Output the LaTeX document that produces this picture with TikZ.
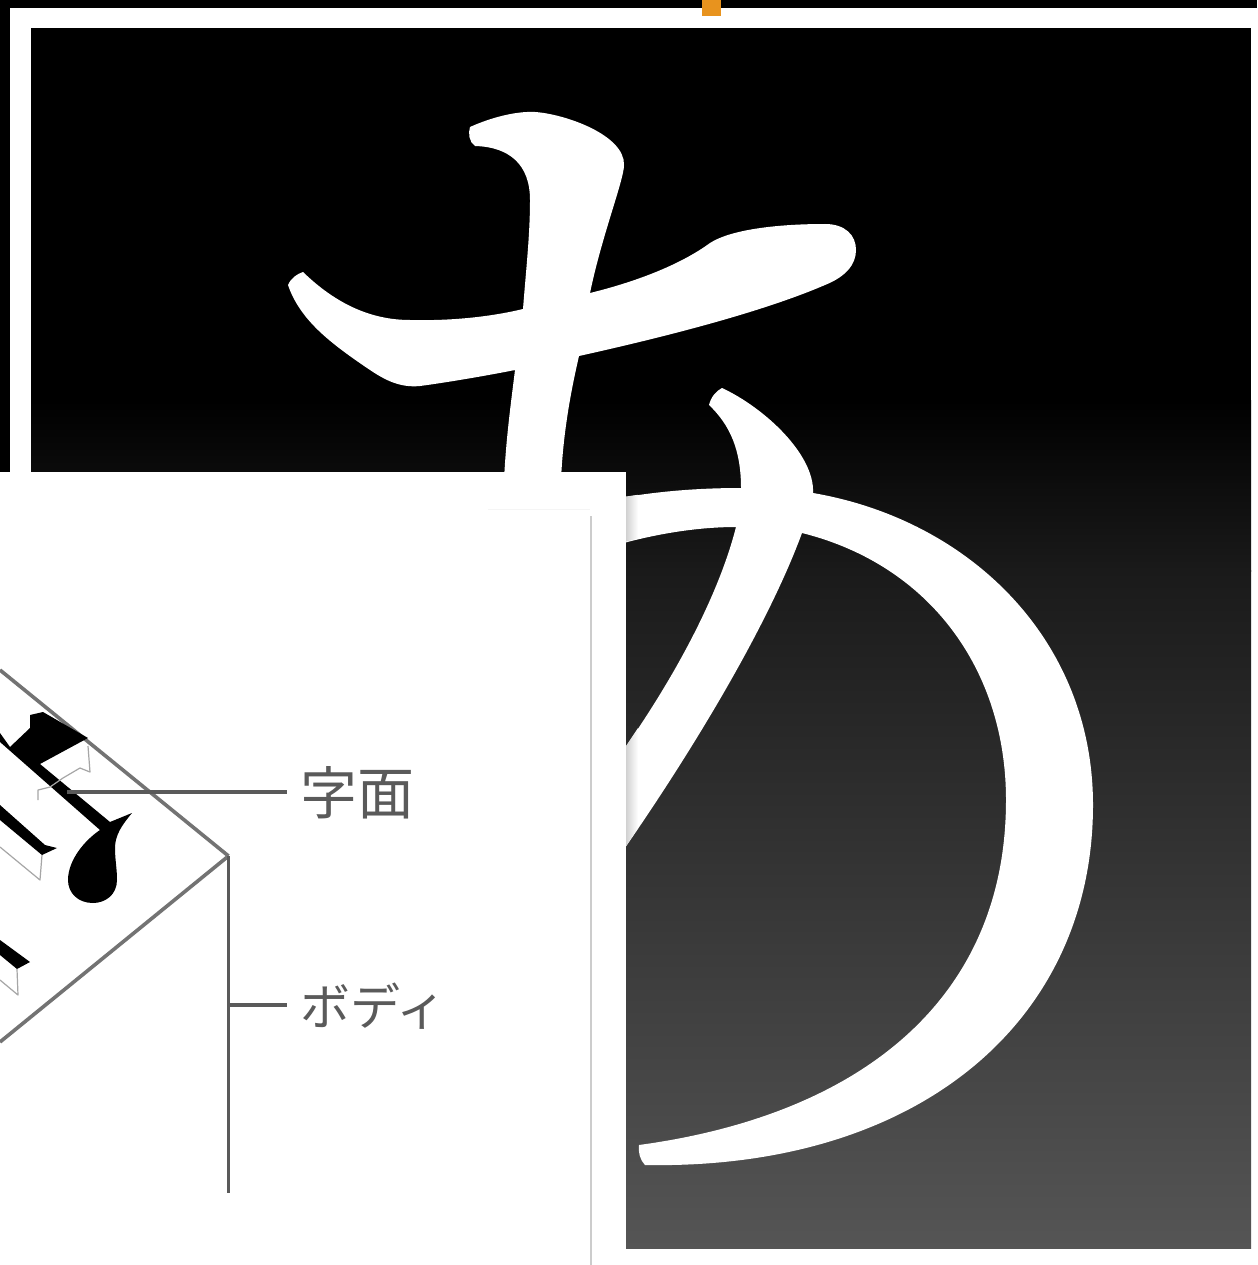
\documentclass[tikz,border=0pt]{standalone}
\usepackage{fontspec}
\newfontfamily\cjk{Noto Sans CJK JP}
\definecolor{naranja}{HTML}{E8931E}
\definecolor{fondoa}{HTML}{1A1A1A}
\definecolor{fondob}{HTML}{555555}
\definecolor{guia}{HTML}{5A5A5A}
\begin{document}
\begin{tikzpicture}[
      x=1pt, y=-1pt,
      trazo/.style={fill=white, draw=none},
      tinta/.style={fill=black, draw=none},
      arista/.style={draw=guia!85, line width=3.6pt},
      guialinea/.style={draw=guia, line width=3.4pt},
      sombra/.style={draw=black!35, line width=1.2pt, line join=round},
      etiqueta/.style={text=guia, inner sep=0pt, anchor=west, font=\cjk}
    ]
    \useasboundingbox (0,0) rectangle (1257,1265);
    % frame
    \fill[black] (0,0) rectangle (1257,1265);
    \fill[white] (10,8) rectangle (1257,1265);
    \fill[naranja] (702,0) rectangle (721,16);
    \fill[black] (31,28) rectangle (1251,402);
    \shade[top color=black, bottom color=fondoa] (31,400) rectangle (1251,571);
    \shade[top color=fondoa, bottom color=fondob] (31,570) rectangle (1251,1248);
    % upper strokes
    \path[trazo] (470,127) .. controls (490,118) and (515,111) .. (535,112)
      .. controls (565,114) and (625,135) .. (624,165)
      .. controls (624,180) and (602,235) .. (590,293)
      .. controls (635,282) and (680,265) .. (710,243)
      .. controls (730,230) and (775,224) .. (825,224)
      .. controls (845,224) and (856,235) .. (856,250)
      .. controls (856,265) and (845,277) .. (825,285)
      .. controls (760,313) and (660,338) .. (579,356)
      .. controls (570,395) and (563,435) .. (561,480)
      -- (504,480)
      .. controls (506,440) and (510,410) .. (515,370)
      .. controls (490,375) and (450,382) .. (420,386)
      .. controls (400,388) and (385,380) .. (370,370)
      .. controls (330,343) and (300,320) .. (288,285)
      .. controls (291,278) and (297,274) .. (303,272)
      .. controls (335,303) and (370,320) .. (410,320)
      .. controls (450,321) and (490,317) .. (523,309)
      .. controls (526,270) and (530,235) .. (530,200)
      .. controls (530,165) and (510,147) .. (475,146)
      .. controls (469,142) and (468,133) .. (470,127) -- cycle;
    % loop
    \path[trazo] (620,498) .. controls (660,491) and (700,488) .. (741,488)
      .. controls (741,450) and (730,425) .. (709,405)
      .. controls (711,397) and (716,391) .. (722,388)
      .. controls (765,408) and (815,455) .. (813,493)
      .. controls (970,520) and (1093,640) .. (1093,805)
      .. controls (1093,1020) and (920,1170) .. (645,1165)
      .. controls (640,1160) and (638,1152) .. (639,1145)
      .. controls (860,1115) and (1006,1000) .. (1006,800)
      .. controls (1006,670) and (930,565) .. (802,533)
      .. controls (770,620) and (700,740) .. (620,855)
      -- (620,755)
      .. controls (680,670) and (720,590) .. (736,527)
      .. controls (700,527) and (660,533) .. (620,544) -- cycle;
    % shadow of the panel on the strokes
    \shade[left color=black!18, right color=white] (626,496.5) -- (638,494.8) -- (638,538.5) -- (626,541.5) -- cycle;
    \shade[left color=black!18, right color=white] (626,746) -- (638,728) -- (638,828) -- (626,846) -- cycle;
    % panel
    \fill[white] (0,472) rectangle (626,1265);
    \draw[black!20, line width=1.2pt] (591,516) -- (591,1265);
    \draw[black!4, line width=1pt] (488,509) -- (590,509);
    % type piece
    \coordinate (esquina) at (228.5,856);
    \coordinate (pie) at (228.5,1193);
    \coordinate (ramal) at (228.5,1005);
    \coordinate (punta) at (67,792);
    \draw[arista] (0,670) -- (esquina);
    \draw[arista] (0,1042) -- (esquina);
    \draw[guialinea] (esquina) -- (pie);
    % face of the letter
    \path[tinta] (0,733) -- (10,747) -- (30,728) -- (30,715) -- (43,712) -- (88,738)
      -- (40,764) -- (110,822) -- (132,813) .. controls (122,825) and (115,835) .. (115,848)
      .. controls (115,860) and (117,868) .. (117,880)
      .. controls (117,895) and (105,903) .. (93,903)
      .. controls (78,903) and (68,893) .. (68,880)
      .. controls (68,860) and (85,840) .. (100,830)
      -- (0,742) -- cycle;
    \path[tinta] (0,805) -- (45,845) -- (57,848) -- (42,855) -- (0,820) -- cycle;
    \path[tinta] (0,940) -- (30,962) -- (17,969) -- (0,955) -- cycle;
    \draw[sombra] (88,746) -- (90,772) -- (80,768) -- (63,778) -- (50,787) -- (38,790) -- (38,800);
    \draw[sombra] (42,855) -- (40,880) -- (0,847);
    \draw[sombra] (17,969) -- (18,995) -- (0,980);
    % labels
    \node[etiqueta, font=\cjk\fontsize{57}{57}\selectfont] (jimen) at (300,793) {字面};
    \node[etiqueta, font=\cjk\fontsize{50}{50}\selectfont] (bodi) at (300,1006) {ボディ};
    \coordinate (jimenfin) at (287,792);
    \coordinate (bodifin) at (287,1005);
    \draw[guialinea] (punta) -- (jimenfin);
    \draw[guialinea] (ramal) -- (bodifin);
  \end{tikzpicture}
\end{document}
